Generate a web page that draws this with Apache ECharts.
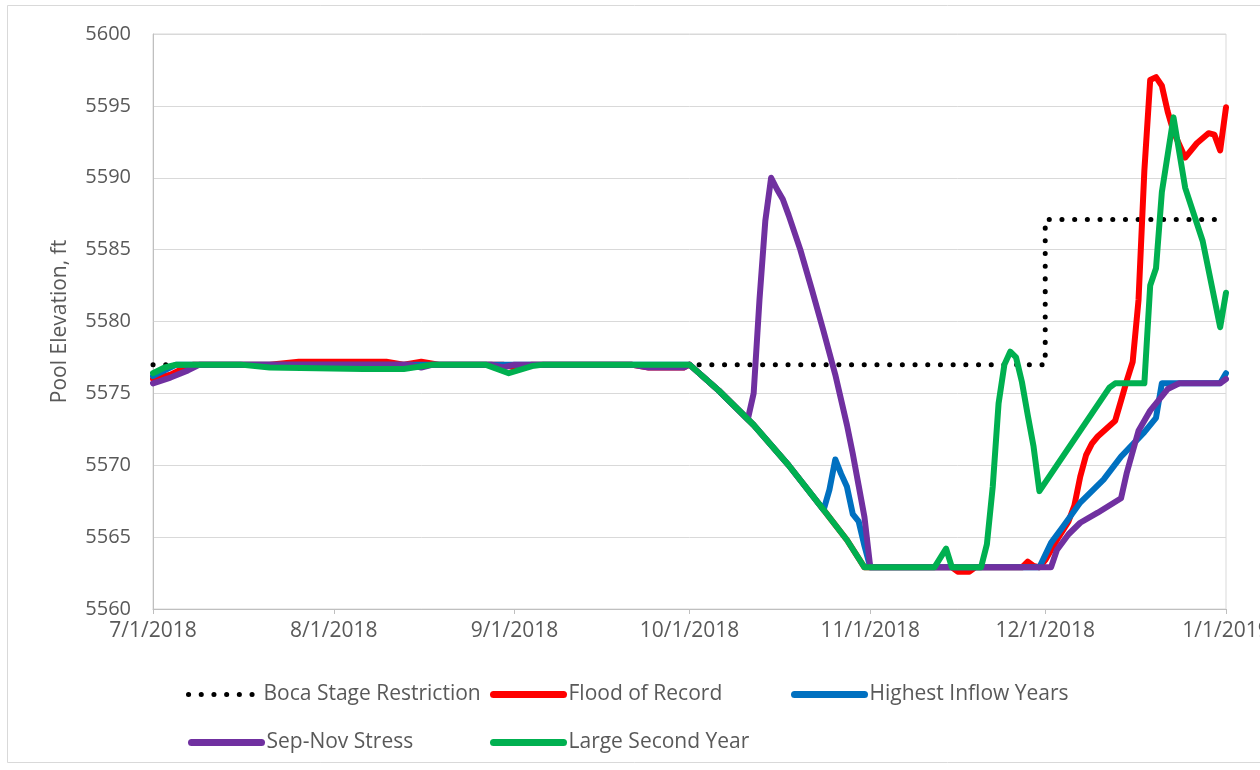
<!DOCTYPE html>
<html>
<head>
<meta charset="utf-8">
<title>Pool Elevation</title>
<script src="https://cdn.jsdelivr.net/npm/echarts@6/dist/echarts.min.js"></script>
<style>
  html, body { margin: 0; padding: 0; background: #fff; }
  #chart { width: 1260px; height: 770px; }
</style>
</head>
<body>
<div id="chart"></div>
<script>

// series names
var names = ['Boca Stage Restriction', 'Flood of Record', 'Highest Inflow Years', 'Sep-Nov Stress', 'Large Second Year']

// y ticks
var yMin = 5560, yMax = 5600, yStep = 5

var bocaStage = [
    ['2018-07-01', 5577.0], ['2018-12-01', 5577.0], ['2018-12-01', 5587.1], ['2018-12-31', 5587.1]
]

var floodOfRecord = [
    ['2018-07-01', 5576.0], ['2018-07-04', 5576.3], ['2018-07-06', 5576.7], ['2018-07-08', 5577.0],
    ['2018-07-21', 5577.0], ['2018-07-26', 5577.2], ['2018-08-10', 5577.2], ['2018-08-13', 5577.0],
    ['2018-08-16', 5577.2], ['2018-08-19', 5577.0], ['2018-08-30', 5577.0], ['2018-09-01', 5576.8],
    ['2018-09-04', 5577.0], ['2018-09-21', 5577.0], ['2018-09-24', 5576.8], ['2018-09-30', 5576.8],
    ['2018-10-01', 5577.0], ['2018-10-06', 5575.2], ['2018-10-12', 5572.8], ['2018-10-18', 5570.0],
    ['2018-10-24', 5566.9], ['2018-10-28', 5564.8], ['2018-10-31', 5562.9], ['2018-11-15', 5562.9],
    ['2018-11-16', 5562.6], ['2018-11-18', 5562.6], ['2018-11-19', 5562.9], ['2018-11-27', 5562.9],
    ['2018-11-28', 5563.3], ['2018-11-29', 5563.0], ['2018-11-30', 5562.9], ['2018-12-01', 5563.4],
    ['2018-12-03', 5564.8], ['2018-12-05', 5566.1], ['2018-12-06', 5567.2], ['2018-12-07', 5569.2],
    ['2018-12-08', 5570.7], ['2018-12-09', 5571.5], ['2018-12-10', 5572.0], ['2018-12-13', 5573.1],
    ['2018-12-14', 5574.5], ['2018-12-15', 5575.9], ['2018-12-16', 5577.2], ['2018-12-17', 5581.5],
    ['2018-12-18', 5590.5], ['2018-12-19', 5596.8], ['2018-12-20', 5597.0], ['2018-12-21', 5596.4],
    ['2018-12-22', 5594.6], ['2018-12-23', 5593.2], ['2018-12-25', 5591.4], ['2018-12-27', 5592.4],
    ['2018-12-29', 5593.1], ['2018-12-30', 5593.0], ['2018-12-31', 5591.9], ['2019-01-01', 5594.9]
]

var highestInflow = [
    ['2018-07-01', 5576.2], ['2018-07-03', 5576.6], ['2018-07-05', 5577.0], ['2018-10-01', 5577.0],
    ['2018-10-06', 5575.2], ['2018-10-12', 5572.8], ['2018-10-18', 5570.0], ['2018-10-24', 5566.9],
    ['2018-10-25', 5568.3], ['2018-10-26', 5570.4], ['2018-10-27', 5569.4], ['2018-10-28', 5568.5],
    ['2018-10-29', 5566.6], ['2018-10-30', 5566.1], ['2018-10-31', 5564.4], ['2018-11-01', 5562.9],
    ['2018-11-30', 5562.9], ['2018-12-02', 5564.6], ['2018-12-04', 5565.7], ['2018-12-07', 5567.4],
    ['2018-12-11', 5569.0], ['2018-12-14', 5570.6], ['2018-12-18', 5572.3], ['2018-12-20', 5573.3],
    ['2018-12-21', 5575.7], ['2018-12-31', 5575.7], ['2019-01-01', 5576.4]
]

var sepNovStress = [
    ['2018-07-01', 5575.7], ['2018-07-04', 5576.1], ['2018-07-07', 5576.6], ['2018-07-09', 5577.0],
    ['2018-08-14', 5577.0], ['2018-08-16', 5576.8], ['2018-08-18', 5577.0], ['2018-08-28', 5577.0],
    ['2018-08-30', 5576.8], ['2018-09-01', 5577.0], ['2018-09-21', 5577.0], ['2018-09-24', 5576.8],
    ['2018-09-30', 5576.8], ['2018-10-01', 5577.0], ['2018-10-06', 5575.2], ['2018-10-11', 5573.2],
    ['2018-10-12', 5575.0], ['2018-10-13', 5581.5], ['2018-10-14', 5587.0], ['2018-10-15', 5590.0],
    ['2018-10-16', 5589.2], ['2018-10-17', 5588.5], ['2018-10-18', 5587.4], ['2018-10-20', 5585.0],
    ['2018-10-22', 5582.2], ['2018-10-24', 5579.3], ['2018-10-26', 5576.3], ['2018-10-28', 5572.8],
    ['2018-10-29', 5570.8], ['2018-10-30', 5568.6], ['2018-10-31', 5566.4], ['2018-11-01', 5562.9],
    ['2018-12-02', 5562.9], ['2018-12-03', 5564.1], ['2018-12-05', 5565.2], ['2018-12-07', 5566.0],
    ['2018-12-10', 5566.7], ['2018-12-14', 5567.7], ['2018-12-15', 5569.5], ['2018-12-17', 5572.4],
    ['2018-12-19', 5573.8], ['2018-12-22', 5575.3], ['2018-12-24', 5575.7], ['2018-12-31', 5575.7],
    ['2019-01-01', 5576.0]
]

var largeSecondYear = [
    ['2018-07-01', 5576.4], ['2018-07-03', 5576.8], ['2018-07-05', 5577.0], ['2018-07-16', 5577.0],
    ['2018-07-21', 5576.8], ['2018-08-06', 5576.7], ['2018-08-13', 5576.7], ['2018-08-18', 5577.0],
    ['2018-08-27', 5577.0], ['2018-08-31', 5576.4], ['2018-09-04', 5576.9], ['2018-09-06', 5577.0],
    ['2018-10-01', 5577.0], ['2018-10-06', 5575.2], ['2018-10-12', 5572.8], ['2018-10-18', 5570.0],
    ['2018-10-24', 5566.9], ['2018-10-28', 5564.8], ['2018-10-31', 5562.9], ['2018-11-12', 5562.9],
    ['2018-11-14', 5564.2], ['2018-11-15', 5562.9], ['2018-11-20', 5562.9], ['2018-11-21', 5564.5],
    ['2018-11-22', 5568.5], ['2018-11-23', 5574.3], ['2018-11-24', 5577.0], ['2018-11-25', 5577.9],
    ['2018-11-26', 5577.5], ['2018-11-27', 5575.8], ['2018-11-28', 5573.5], ['2018-11-29', 5571.3],
    ['2018-11-30', 5568.2], ['2018-12-04', 5570.6], ['2018-12-08', 5573.0], ['2018-12-12', 5575.4],
    ['2018-12-13', 5575.7], ['2018-12-18', 5575.7], ['2018-12-19', 5582.5], ['2018-12-20', 5583.7],
    ['2018-12-21', 5589.0], ['2018-12-23', 5594.2], ['2018-12-25', 5589.3], ['2018-12-28', 5585.6],
    ['2018-12-31', 5579.6], ['2019-01-01', 5582.0]
]

var colors = ['#000000', '#ff0000', '#0070c0', '#7030a0', '#00b050']

var DAY = 24 * 3600 * 1000
var textGray = '#595959'
var font = 'Open Sans'

var myChart = echarts.init(document.getElementById('chart'))

function lineSeries(i, data) {
    return {
        name: names[i],
        type: 'line',
        data: data,
        symbol: 'none',
        smooth: false,
        lineStyle: {
            color: colors[i],
            width: 6,
            cap: 'round',
            join: 'round'
        },
        itemStyle: { color: colors[i] }
    }
}

// one legend per entry so they sit in the two rows / three columns
function legendAt(i, left, top) {
    return {
        data: [names[i]],
        left: left,
        top: top,
        padding: 0,
        itemWidth: 70,
        itemHeight: 2,
        selectedMode: false,
        itemStyle: { opacity: 0 },
        lineStyle: { width: i == 0 ? 5 : 7 },
        textStyle: { color: textGray, fontSize: 21, fontFamily: font }
    }
}

var bocaSeries = lineSeries(0, bocaStage)
bocaSeries.lineStyle = { color: '#000', width: 5, type: [0.1, 12.6], cap: 'round' }

option = {
    animation: false,
    backgroundColor: '#fff',
    grid: {
        left: 153,
        right: 34,
        top: 34,
        bottom: 161,
        outerBoundsMode: 'none',
        containLabel: false,
        show: true,
        borderColor: '#d9d9d9',
        borderWidth: 1
    },
    graphic: [{
        type: 'rect',
        shape: { x: 7.5, y: 5.5, width: 1300, height: 757 },
        style: { fill: 'none', stroke: '#d9d9d9', lineWidth: 1 },
        silent: true
    }],
    legend: [
        legendAt(0, 186, 684),
        legendAt(1, 490, 684),
        legendAt(2, 791, 684),
        legendAt(3, 188, 732),
        legendAt(4, 490, 732)
    ],
    xAxis: {
        type: 'time',
        min: '2018-07-01',
        max: '2019-01-01',
        minInterval: 28 * DAY,
        maxInterval: 31 * DAY,
        axisLine: { lineStyle: { color: '#bfbfbf', width: 1 } },
        axisTick: { show: true, length: 5, lineStyle: { color: '#bfbfbf' } },
        splitLine: { show: false },
        axisLabel: {
            color: textGray,
            fontSize: 21,
            fontFamily: font,
            margin: 12,
            showMinLabel: true,
            showMaxLabel: true,
            hideOverlap: false,
            formatter: function (value) {
                var d = new Date(value)
                return (d.getMonth() + 1) + '/' + d.getDate() + '/' + d.getFullYear()
            }
        }
    },
    yAxis: {
        type: 'value',
        min: yMin,
        max: yMax,
        interval: yStep,
        name: 'Pool Elevation, ft',
        nameLocation: 'middle',
        nameGap: 82,
        nameTextStyle: { color: textGray, fontSize: 21, fontFamily: font },
        axisLine: { show: true, lineStyle: { color: '#bfbfbf', width: 1 } },
        axisTick: { show: false },
        splitLine: { lineStyle: { color: '#d9d9d9', width: 1 } },
        axisLabel: {
            color: textGray, fontSize: 20, fontFamily: font, margin: 22,
            formatter: function (v) { return String(v) }
        }
    },
    series: [
        bocaSeries,
        lineSeries(1, floodOfRecord),
        lineSeries(2, highestInflow),
        lineSeries(3, sepNovStress),
        lineSeries(4, largeSecondYear)
    ]
};

myChart.setOption(option);

</script>
</body>
</html>
